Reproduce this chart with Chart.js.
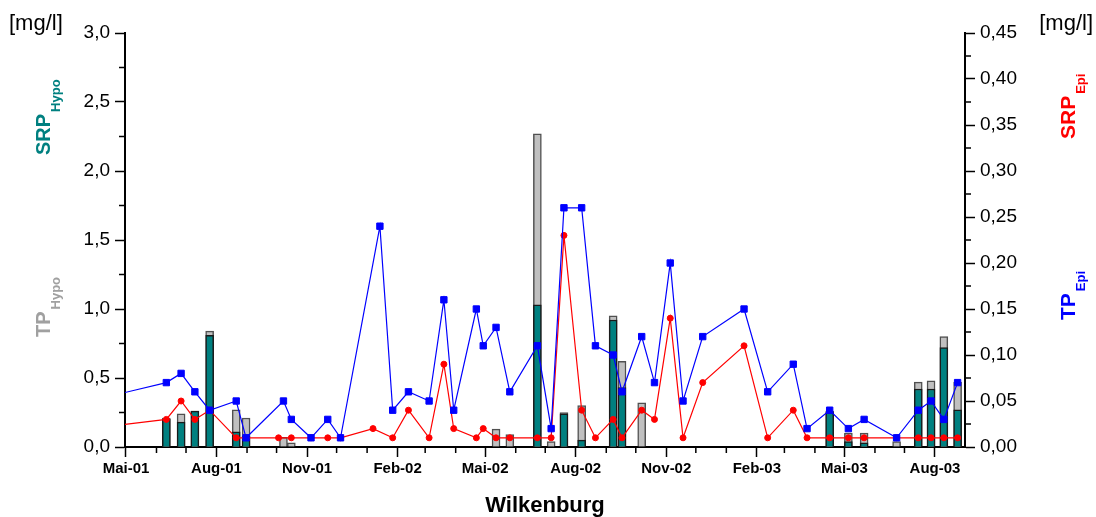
<!DOCTYPE html>
<html>
<head>
<meta charset="utf-8">
<script src="https://cdn.jsdelivr.net/npm/chart.js@4.4.1/dist/chart.umd.min.js"></script>
<style>
  html, body { margin: 0; padding: 0; background: #fff; }
</style>
</head>
<body>
<canvas id="Chart" width="1096" height="517"></canvas>
<script>
// TP epilimnion (blue squares, right axis)
const tpEpiDates = ['2001-03-25','2001-06-11','2001-06-26','2001-07-10','2001-07-25','2001-08-21','2001-08-31',
  '2001-10-08','2001-10-16','2001-11-05','2001-11-22','2001-12-05','2002-01-14','2002-01-27','2002-02-12',
  '2002-03-05','2002-03-20','2002-03-30','2002-04-22','2002-04-29','2002-05-12','2002-05-26','2002-06-23',
  '2002-07-07','2002-07-20','2002-08-07','2002-08-21','2002-09-08','2002-09-17','2002-10-07','2002-10-20',
  '2002-11-05','2002-11-18','2002-12-08','2003-01-19','2003-02-12','2003-03-10','2003-03-24','2003-04-16',
  '2003-05-05','2003-05-21','2003-06-23','2003-07-15','2003-07-28','2003-08-10','2003-08-24'];
const tpEpi = [0.05, 0.07, 0.08, 0.06, 0.04, 0.05, 0.01,
  0.05, 0.03, 0.01, 0.03, 0.01, 0.24, 0.04, 0.06,
  0.05, 0.16, 0.04, 0.15, 0.11, 0.13, 0.06, 0.11,
  0.02, 0.26, 0.26, 0.11, 0.10, 0.06, 0.12, 0.07,
  0.20, 0.05, 0.12, 0.15, 0.06, 0.09, 0.02, 0.04,
  0.02, 0.03, 0.01, 0.04, 0.05, 0.03, 0.07];

// SRP epilimnion (red circles, right axis)
const srpEpiDates = ['2001-03-25','2001-06-11','2001-06-26','2001-07-10','2001-07-25','2001-08-21','2001-08-31',
  '2001-10-03','2001-10-16','2001-11-05','2001-11-22','2001-12-05','2002-01-07','2002-01-27','2002-02-12',
  '2002-03-05','2002-03-20','2002-03-30','2002-04-22','2002-04-29','2002-05-12','2002-05-26','2002-06-23',
  '2002-07-07','2002-07-20','2002-08-07','2002-08-21','2002-09-08','2002-09-17','2002-10-07','2002-10-20',
  '2002-11-05','2002-11-18','2002-12-08','2003-01-19','2003-02-12','2003-03-10','2003-03-24','2003-04-16',
  '2003-05-05','2003-05-21','2003-06-23','2003-07-15','2003-07-28','2003-08-10','2003-08-24'];
const srpEpi = [0.02, 0.03, 0.05, 0.03, 0.04, 0.01, 0.01,
  0.01, 0.01, 0.01, 0.01, 0.01, 0.02, 0.01, 0.04,
  0.01, 0.09, 0.02, 0.01, 0.02, 0.01, 0.01, 0.01,
  0.01, 0.23, 0.04, 0.01, 0.03, 0.01, 0.04, 0.03,
  0.14, 0.01, 0.07, 0.11, 0.01, 0.04, 0.01, 0.01,
  0.01, 0.01, 0.01, 0.01, 0.01, 0.01, 0.01];

// hypolimnion bars (left axis)
const hypoDates = ['2001-06-11','2001-06-26','2001-07-10','2001-07-25','2001-08-21','2001-08-31','2001-10-08',
  '2001-10-16','2002-05-12','2002-05-26','2002-06-23','2002-07-07','2002-07-20','2002-08-07','2002-09-08',
  '2002-09-17','2002-10-07','2003-04-16','2003-05-05','2003-05-21','2003-06-23','2003-07-15','2003-07-28',
  '2003-08-10','2003-08-24'];
const tpHypo = [0.21, 0.24, 0.26, 0.84, 0.27, 0.21, 0.07,
  0.03, 0.13, 0.09, 2.27, 0.04, 0.25, 0.30, 0.95,
  0.62, 0.32, 0.26, 0.10, 0.10, 0.04, 0.47, 0.48,
  0.80, 0.47];
const srpHypo = [0.20, 0.18, 0.26, 0.81, 0.11, 0.08, null,
  null, null, null, 1.03, null, 0.24, 0.05, 0.92,
  0.43, null, 0.25, 0.04, 0.03, null, 0.42, 0.42,
  0.72, 0.27];

// labelled x ticks
const xTickDates = ['2001-05-01','2001-08-01','2001-11-01','2002-02-01','2002-05-01','2002-08-01',
  '2002-11-01','2003-02-01','2003-05-01','2003-08-01'];
const xTickLabels = ['Mai-01','Aug-01','Nov-01','Feb-02','Mai-02','Aug-02','Nov-02','Feb-03','Mai-03','Aug-03'];

const FONT = '"Liberation Sans", Arial, sans-serif';

function day(s) {
  const p = s.split('-');
  return Date.UTC(+p[0], +p[1] - 1, +p[2]) / 86400000;
}
function pts(dates, vals) {
  return dates.map((d, i) => ({ x: day(d), y: vals[i] }));
}

const xMin = day('2001-04-30');
const xMax = day('2003-08-31') + 0.5;
const majorX = xTickDates.map(day);

function isMajorY(v, step) {
  return Math.abs(v / step - Math.round(v / step)) < 1e-6;
}

function monthTicks() {
  const t = [];
  for (let y = 2001; y <= 2003; y++) {
    for (let m = 0; m < 12; m++) {
      const v = Date.UTC(y, m, 1) / 86400000;
      if (v >= xMin && v <= xMax) t.push({ value: v });
    }
  }
  return t;
}
function stepTicks(max, step) {
  const t = [];
  const n = Math.round(max / step);
  for (let i = 0; i <= n; i++) t.push({ value: +(i * step).toFixed(4) });
  return t;
}

// short minor ticks, the long ones come from Chart.js
const minorTicks = {
  id: 'minorTicks',
  afterDraw(chart) {
    const ctx = chart.ctx;
    const s = chart.scales;
    ctx.save();
    ctx.strokeStyle = '#000';
    ctx.lineWidth = 1.5;
    ctx.beginPath();
    s.x.ticks.forEach(t => {
      if (majorX.indexOf(t.value) >= 0) return;
      const px = s.x.getPixelForValue(t.value);
      ctx.moveTo(px, s.x.top); ctx.lineTo(px, s.x.top + 6);
    });
    s.yL.ticks.forEach(t => {
      if (isMajorY(t.value, 0.5)) return;
      const py = s.yL.getPixelForValue(t.value);
      ctx.moveTo(s.yL.right, py); ctx.lineTo(s.yL.right - 6, py);
    });
    s.yR.ticks.forEach(t => {
      if (isMajorY(t.value, 0.05)) return;
      const py = s.yR.getPixelForValue(t.value);
      ctx.moveTo(s.yR.left, py); ctx.lineTo(s.yR.left + 6, py);
    });
    ctx.stroke();
    ctx.restore();
  }
};

function vText(ctx, main, sub, x, y, color, size) {
  ctx.save();
  ctx.translate(x, y);
  ctx.rotate(-Math.PI / 2);
  ctx.fillStyle = color;
  ctx.textAlign = 'left';
  ctx.textBaseline = 'alphabetic';
  ctx.font = 'bold ' + size + 'px ' + FONT;
  ctx.fillText(main, 0, 0);
  const w = ctx.measureText(main).width;
  ctx.font = 'bold 13px ' + FONT;
  ctx.fillText(sub, w + 2, 9.5);
  ctx.restore();
}

const sideLabels = {
  id: 'sideLabels',
  afterDraw(chart) {
    const ctx = chart.ctx;
    ctx.save();
    ctx.fillStyle = '#000';
    ctx.font = '22px ' + FONT;
    ctx.textBaseline = 'alphabetic';
    ctx.textAlign = 'left';
    ctx.fillText('[mg/l]', 9, 30);
    ctx.textAlign = 'right';
    ctx.fillText('[mg/l]', 1093, 30);
    ctx.restore();
    vText(ctx, 'SRP', 'Hypo', 50, 155, '#008080', 20);
    vText(ctx, 'TP', 'Hypo', 50, 337, '#a0a0a0', 20);
    vText(ctx, 'SRP', 'Epi', 1075, 139, '#ff0000', 21);
    vText(ctx, 'TP', 'Epi', 1075, 320, '#0000ff', 21);
  }
};

const ctx = document.getElementById('Chart');
const myChart = new Chart(ctx, {
  type: 'bar',
  data: {
    datasets: [
      {
        type: 'line',
        label: 'TP Epi',
        data: pts(tpEpiDates, tpEpi),
        yAxisID: 'yR',
        borderColor: '#0000ff',
        backgroundColor: '#0000ff',
        borderWidth: 1.2,
        pointStyle: 'rect',
        pointRadius: 4.5,
        pointBorderWidth: 1,
        tension: 0,
        order: 0
      },
      {
        type: 'line',
        label: 'SRP Epi',
        data: pts(srpEpiDates, srpEpi),
        yAxisID: 'yR',
        borderColor: '#ff0000',
        backgroundColor: '#ff0000',
        borderWidth: 1.2,
        pointStyle: 'circle',
        pointRadius: 3,
        pointBorderWidth: 1,
        tension: 0,
        order: 1
      },
      {
        label: 'SRP Hypo',
        data: pts(hypoDates, srpHypo),
        yAxisID: 'yL',
        backgroundColor: '#008080',
        borderColor: '#1a1a1a',
        borderWidth: 1.5,
        barThickness: 8,
        grouped: false,
        order: 2
      },
      {
        label: 'TP Hypo',
        data: pts(hypoDates, tpHypo),
        yAxisID: 'yL',
        backgroundColor: '#c0c0c0',
        borderColor: '#505050',
        borderWidth: 1.5,
        barThickness: 8,
        grouped: false,
        order: 3
      }
    ]
  },
  options: {
    responsive: false,
    animation: false,
    layout: { padding: { top: 33, left: 0, right: 0, bottom: 0 } },
    plugins: { legend: { display: false }, tooltip: { enabled: false } },
    scales: {
      x: {
        type: 'linear',
        min: xMin,
        max: xMax,
        offset: false,
        afterBuildTicks: scale => { scale.ticks = monthTicks(); },
        afterFit: scale => { scale.height = 70; },
        border: { display: true, color: '#000', width: 2 },
        grid: {
          offset: false,
          drawOnChartArea: false,
          tickLength: 10,
          tickWidth: 1.5,
          tickColor: c => (c.tick && majorX.indexOf(c.tick.value) >= 0) ? '#000' : 'rgba(0,0,0,0)'
        },
        ticks: {
          autoSkip: false,
          maxRotation: 0,
          padding: 3,
          color: '#000',
          font: { family: FONT, size: 15, weight: 'bold' },
          callback: v => {
            const i = majorX.indexOf(v);
            return i >= 0 ? xTickLabels[i] : '';
          }
        },
        title: {
          display: true,
          text: 'Wilkenburg',
          color: '#000',
          font: { family: FONT, size: 22, weight: 'bold' },
          padding: { top: 0, bottom: -2 }
        }
      },
      yL: {
        type: 'linear',
        position: 'left',
        min: 0,
        max: 3,
        afterBuildTicks: scale => { scale.ticks = stepTicks(3, 0.25); },
        afterFit: scale => { scale.width = 125; },
        border: { display: true, color: '#000', width: 2 },
        grid: {
          drawOnChartArea: false,
          tickLength: 10,
          tickWidth: 1.5,
          tickColor: c => (c.tick && isMajorY(c.tick.value, 0.5)) ? '#000' : 'rgba(0,0,0,0)'
        },
        ticks: {
          autoSkip: false,
          padding: 5,
          color: '#000',
          font: { family: FONT, size: 19 },
          callback: v => isMajorY(v, 0.5) ? v.toFixed(1).replace('.', ',') : ''
        }
      },
      yR: {
        type: 'linear',
        position: 'right',
        min: 0,
        max: 0.45,
        afterBuildTicks: scale => { scale.ticks = stepTicks(0.45, 0.025); },
        afterFit: scale => { scale.width = 131; },
        border: { display: true, color: '#000', width: 2 },
        grid: {
          drawOnChartArea: false,
          tickLength: 10,
          tickWidth: 1.5,
          tickColor: c => (c.tick && isMajorY(c.tick.value, 0.05)) ? '#000' : 'rgba(0,0,0,0)'
        },
        ticks: {
          autoSkip: false,
          padding: 5,
          color: '#000',
          font: { family: FONT, size: 19 },
          callback: v => isMajorY(v, 0.05) ? v.toFixed(2).replace('.', ',') : ''
        }
      }
    }
  },
  plugins: [minorTicks, sideLabels]
});
</script>
</body>
</html>
